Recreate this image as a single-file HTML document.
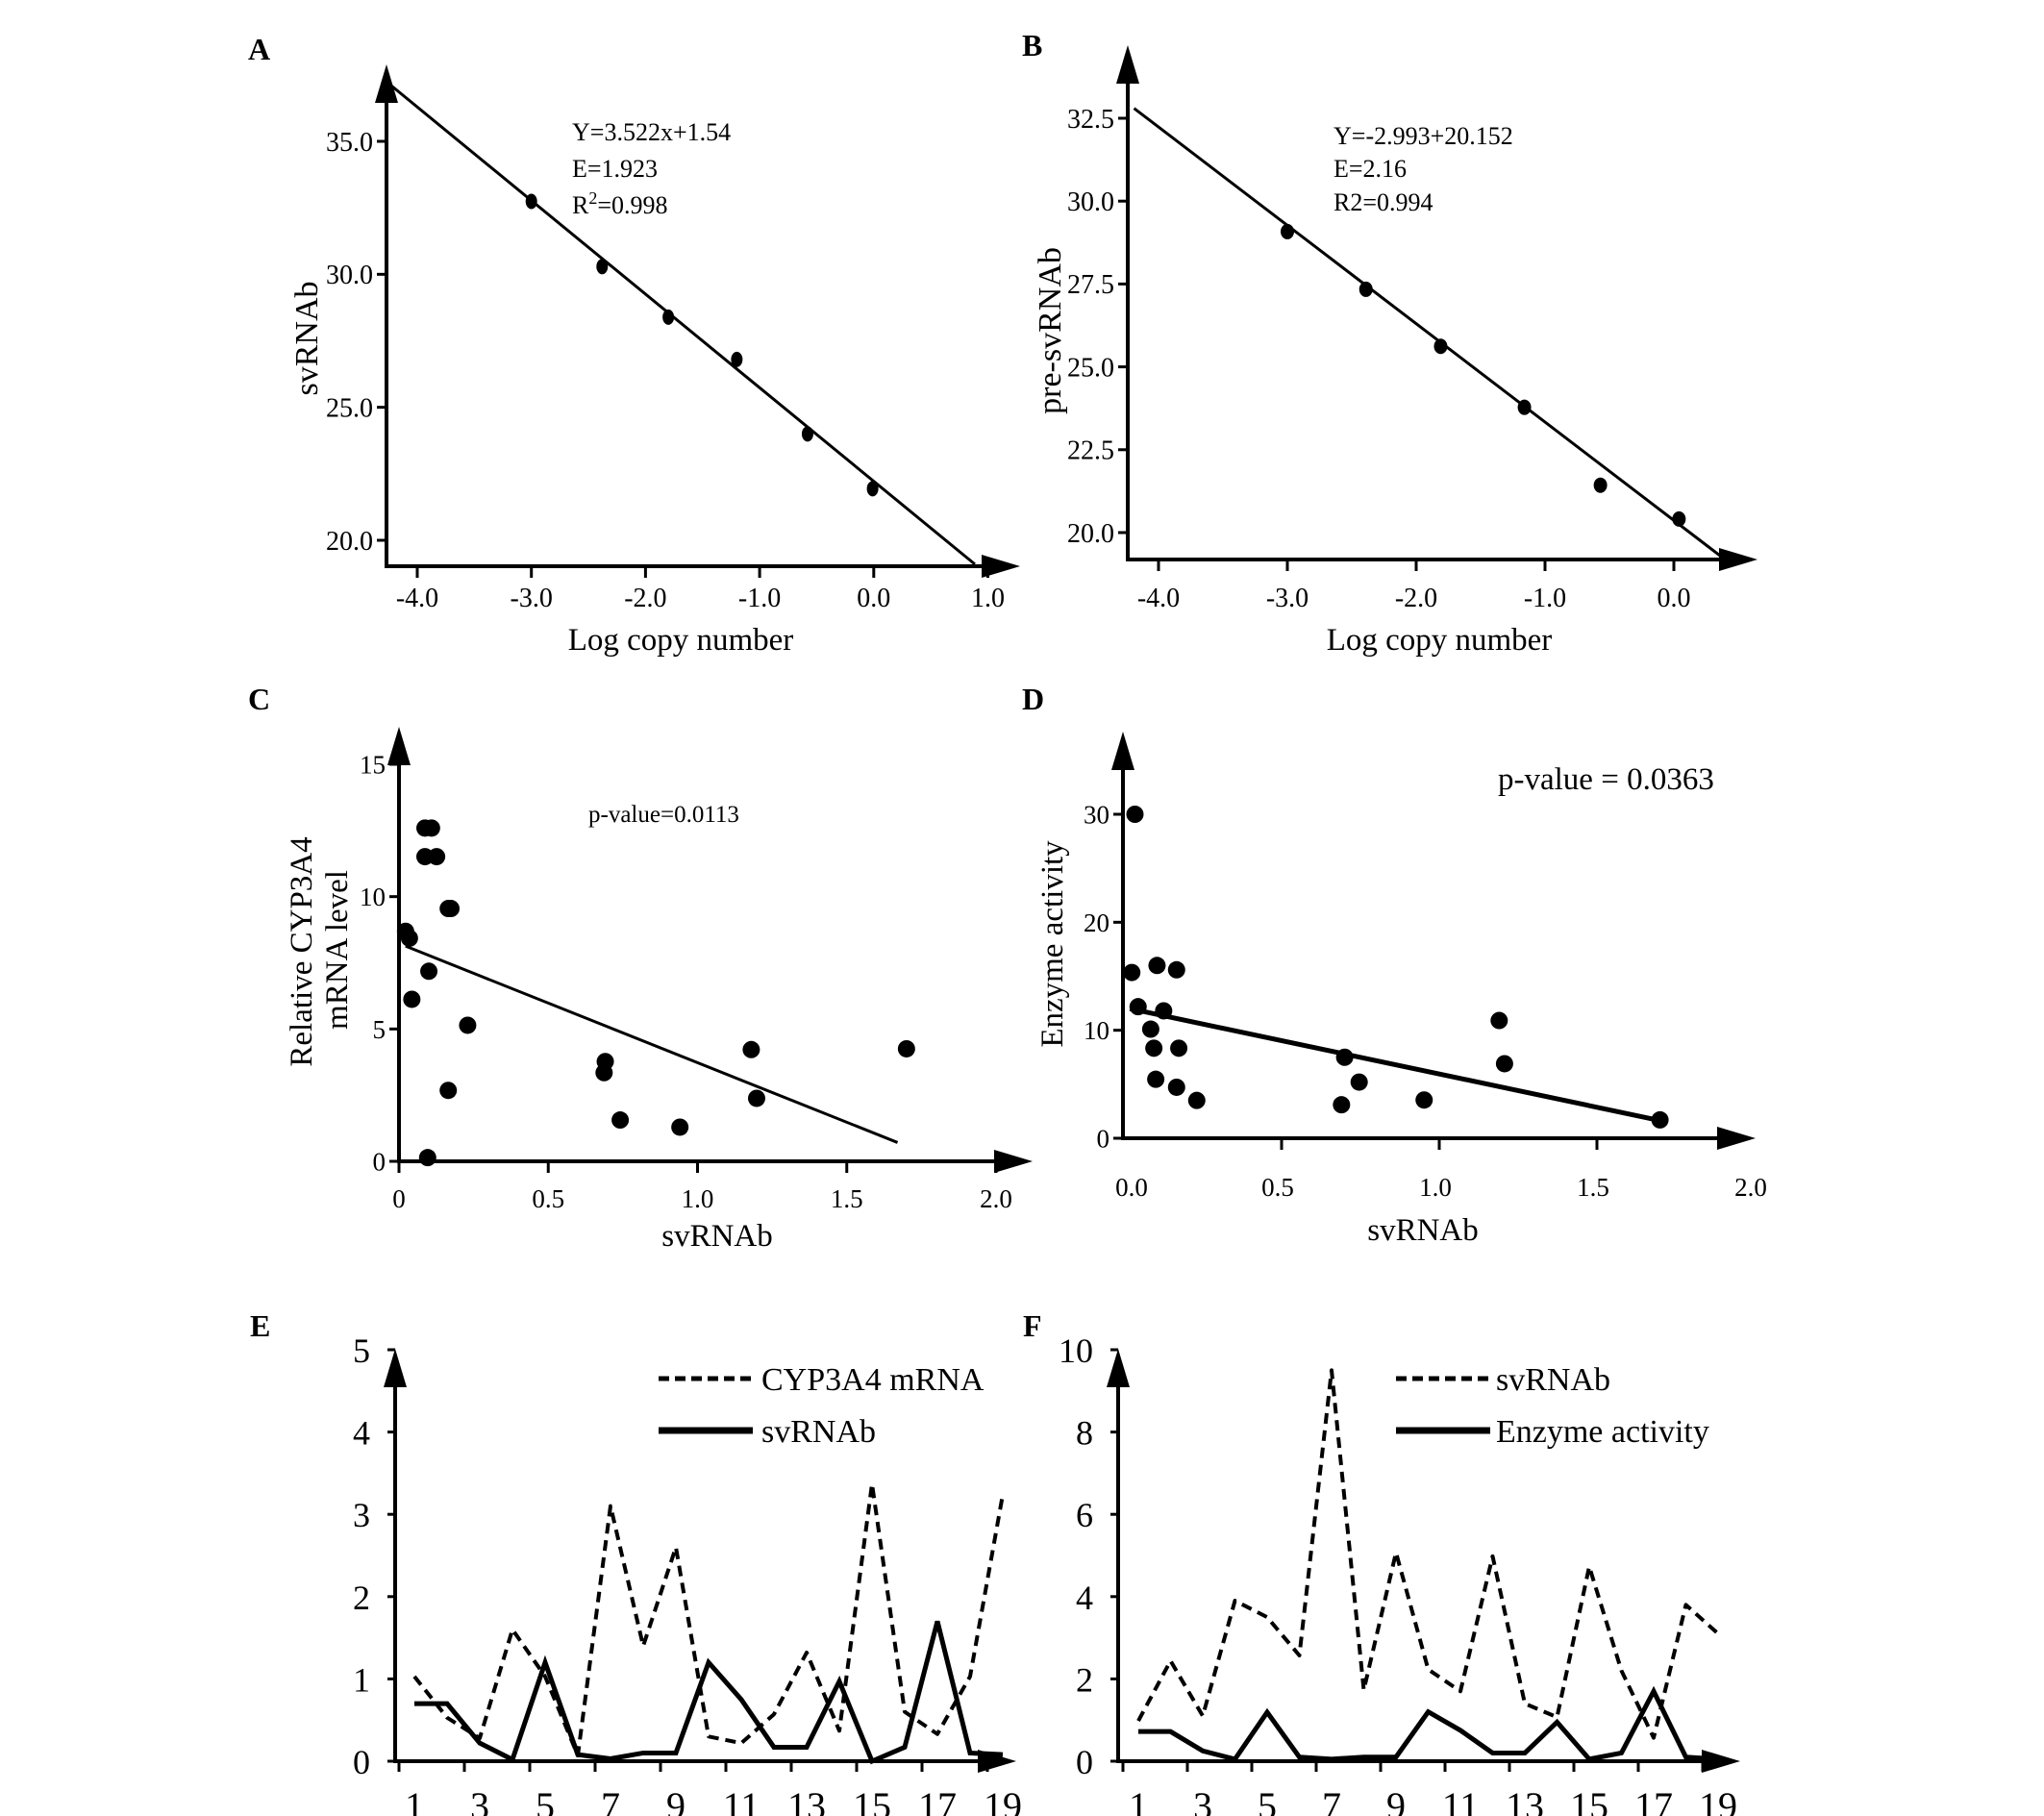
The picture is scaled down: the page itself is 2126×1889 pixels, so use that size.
<!DOCTYPE html>
<html><head><meta charset="utf-8"><style>
html,body{margin:0;padding:0;background:#fff}
svg{display:block}
text{font-family:"Liberation Serif",serif;fill:#000}
</style></head><body>
<svg id="fig" width="2126" height="1889" viewBox="0 0 2126 1889" xmlns="http://www.w3.org/2000/svg"></svg>
<script>
// Panel A data
const aX=[-3.0,-2.38,-1.8,-1.2,-0.58,-0.01];
const aY=[32.74,30.29,28.39,26.8,24.0,21.94];
const aFit=[[-4.23,37.1],[0.886,19.1]];
const aXTicks=[-4,-3,-2,-1,0,1];
const aXTickLabels=["-4.0","-3.0","-2.0","-1.0","0.0","1.0"];
const aYTicks=[20,25,30,35];
const aYTickLabels=["20.0","25.0","30.0","35.0"];
// Panel B data
const bX=[-3.0,-2.39,-1.81,-1.16,-0.57,0.04];
const bY=[29.08,27.34,25.62,23.78,21.43,20.41];
const bFit=[[-4.19,32.8],[0.36,19.3]];
const bXTicks=[-4,-3,-2,-1,0];
const bXTickLabels=["-4.0","-3.0","-2.0","-1.0","0.0"];
const bYTicks=[20,22.5,25,27.5,30,32.5];
const bYTickLabels=["20.0","22.5","25.0","27.5","30.0","32.5"];
// Panel C data
const cX=[0.022,0.035,0.087,0.109,0.087,0.126,0.165,0.174,0.100,0.043,0.230,0.165,0.096,0.691,0.687,0.741,0.941,1.180,1.198,1.70];
const cY=[8.69,8.43,12.59,12.59,11.51,11.51,9.55,9.55,7.18,6.12,5.14,2.68,0.14,3.77,3.35,1.56,1.29,4.22,2.38,4.25];
const cFit=[[0.022,8.13],[1.67,0.71]];
const cXTicks=[0,0.5,1,1.5,2];
const cXTickLabels=["0","0.5","1.0","1.5","2.0"];
const cYTicks=[0,5,10,15];
const cYTickLabels=["0","5","10","15"];
// Panel D data
const dX=[0.025,0.035,0.045,0.105,0.167,0.126,0.085,0.095,0.174,0.101,0.167,0.231,0.70,0.746,0.69,0.952,1.19,1.207,1.70];
const dY=[15.35,30.0,12.18,16.0,15.6,11.8,10.1,8.34,8.34,5.46,4.72,3.5,7.5,5.2,3.1,3.54,10.9,6.9,1.70];
const dFit=[[0.019,12.0],[1.69,1.7]];
const dXTicks=[0,0.5,1,1.5,2];
const dXTickLabels=["0.0","0.5","1.0","1.5","2.0"];
const dYTicks=[0,10,20,30];
const dYTickLabels=["0","10","20","30"];
// Panel E data
const eCats=[1,2,3,4,5,6,7,8,9,10,11,12,13,14,15,16,17,18,19];
const eMrna=[1.03,0.53,0.28,1.6,1.03,0.07,3.1,1.4,2.6,0.3,0.22,0.57,1.32,0.37,3.37,0.6,0.33,1.03,3.24];
const eSv=[0.7,0.7,0.22,0.02,1.2,0.08,0.03,0.1,0.1,1.2,0.75,0.17,0.17,0.97,0.0,0.17,1.7,0.1,0.08];
const eYTicks=[0,1,2,3,4,5];
// Panel F data
const fSv=[0.98,2.44,1.1,3.9,3.5,2.57,9.5,1.73,5.07,2.23,1.7,4.98,1.4,1.07,4.73,2.2,0.57,3.8,3.1];
const fEnz=[0.72,0.72,0.25,0.05,1.19,0.1,0.05,0.1,0.1,1.2,0.75,0.2,0.2,0.95,0.05,0.2,1.7,0.1,0.05];
const fYTicks=[0,2,4,6,8,10];
const catLabels=["1","3","5","7","9","11","13","15","17","19"];

const NS="http://www.w3.org/2000/svg";
const svg=document.getElementById('fig');
function mk(tag,attrs,parent,txt){const e=document.createElementNS(NS,tag);for(const k in attrs)e.setAttribute(k,attrs[k]);if(txt!==undefined)e.textContent=txt;(parent||svg).appendChild(e);return e;}
function lin(d0,d1,r0,r1){return v=>r0+(v-d0)/(d1-d0)*(r1-r0);}
function group(name){const g=mk('g',{});return g;}
function txt(g,x,y,s,size,anchor,name,extra){const t=mk('text',Object.assign({x:x,y:y,'font-size':size,'text-anchor':anchor||'start'},extra||{}),g,s);return t;}
function axes(g,ox,oy,topY,rightX){
  const ya=mk('line',{x1:ox,y1:oy+2,x2:ox,y2:topY+36,stroke:'#000','stroke-width':4},g);
  
  const yh=mk('polygon',{points:`${ox-12},${topY+40} ${ox+12},${topY+40} ${ox},${topY}`,fill:'#000'},g);
  
  const xa=mk('line',{x1:ox-2,y1:oy,x2:rightX-36,y2:oy,stroke:'#000','stroke-width':4},g);
  
  const xh=mk('polygon',{points:`${rightX-40},${oy-12} ${rightX-40},${oy+12} ${rightX},${oy}`,fill:'#000'},g);
  
}
function xticks(g,sx,ticks,labels,oy,labY,size){
  ticks.forEach((v,i)=>{const l=mk('line',{x1:sx(v),y1:oy,x2:sx(v),y2:oy+12,stroke:'#000','stroke-width':3},g);
    
    txt(g,sx(v),labY,labels[i],size,'middle','x-tick-label');});
}
function yticks(g,sy,ticks,labels,ox,size){
  ticks.forEach((v,i)=>{const l=mk('line',{x1:ox-10,y1:sy(v),x2:ox,y2:sy(v),stroke:'#000','stroke-width':3},g);
    
    txt(g,ox-14,sy(v)+size*0.35,labels[i],size,'end','y-tick-label');});
}
function fit(g,sx,sy,f,w){const l=mk('line',{x1:sx(f[0][0]),y1:sy(f[0][1]),x2:sx(f[1][0]),y2:sy(f[1][1]),stroke:'#000','stroke-width':w},g);
  }

// ---- Panel A ----
{const g=group('panel-a');
 const sx=lin(-4,1,434,1027.5), sy=lin(20,35,562,147);
 txt(g,258,62,'A',32,'start','panel-label-a',{'font-weight':'bold'});
 axes(g,402,589,67,1061);
 xticks(g,sx,aXTicks,aXTickLabels,589,631,28);
 yticks(g,sy,aYTicks,aYTickLabels,402,28);
 fit(g,sx,sy,aFit,3);
 aX.forEach((v,i)=>{const e=mk('ellipse',{cx:sx(v),cy:sy(aY[i]),rx:6,ry:8,fill:'#000'},g);
   });
 txt(g,595,146,'Y=3.522x+1.54',26,'start','equation');
 txt(g,595,184,'E=1.923',26,'start','efficiency');
 const r=txt(g,595,222,'R',26,'start','r-squared');
 mk('tspan',{'font-size':18,dy:-10},r,'2');mk('tspan',{dy:10},r,'=0.998');
 txt(g,0,0,'svRNAb',34,'middle','y-axis-title',{transform:'translate(330,352) rotate(-90)'});
 txt(g,708,676,'Log copy number',33,'middle','x-axis-title');
}
// ---- Panel B ----
{const g=group('panel-b');
 const sx=lin(-4,0,1205,1741), sy=lin(20,32.5,554,123);
 txt(g,1063,58,'B',32,'start','panel-label-b',{'font-weight':'bold'});
 axes(g,1173,582,47,1828);
 xticks(g,sx,bXTicks,bXTickLabels,582,631,28);
 yticks(g,sy,bYTicks,bYTickLabels,1173,28);
 fit(g,sx,sy,bFit,3);
 bX.forEach((v,i)=>{const e=mk('ellipse',{cx:sx(v),cy:sy(bY[i]),rx:7,ry:8,fill:'#000'},g);
   });
 txt(g,1387,150,'Y=-2.993+20.152',26,'start','equation');
 txt(g,1387,184,'E=2.16',26,'start','efficiency');
 txt(g,1387,219,'R2=0.994',26,'start','r-squared');
 txt(g,0,0,'pre-svRNAb',34,'middle','y-axis-title',{transform:'translate(1103,344) rotate(-90)'});
 txt(g,1497,676,'Log copy number',33,'middle','x-axis-title');
}
// ---- Panel C ----
{const g=group('panel-c');
 const sx=lin(0,2,415,1036), sy=lin(0,15,1208,795);
 txt(g,258,738,'C',32,'start','panel-label-c',{'font-weight':'bold'});
 axes(g,415,1208,756,1074);
 xticks(g,sx,cXTicks,cXTickLabels,1208,1256,27);
 yticks(g,sy,cYTicks,cYTickLabels,415,27);
 fit(g,sx,sy,cFit,3);
 cX.forEach((v,i)=>{const e=mk('circle',{cx:sx(v),cy:sy(cY[i]),r:9,fill:'#000'},g);
   });
 txt(g,612,855,'p-value=0.0113',25,'start','p-value');
 txt(g,0,0,'Relative CYP3A4',33,'middle','y-axis-title-line1',{transform:'translate(324,990) rotate(-90)'});
 txt(g,0,0,'mRNA level',33,'middle','y-axis-title-line2',{transform:'translate(361,988) rotate(-90)'});
 txt(g,746,1296,'svRNAb',33,'middle','x-axis-title');
}
// ---- Panel D ----
{const g=group('panel-d');
 const sx=lin(0,2,1169,1825), sy=lin(0,30,1184,847);
 txt(g,1063,738,'D',32,'start','panel-label-d',{'font-weight':'bold'});
 axes(g,1168,1184,761,1826);
 dXTicks.forEach((v,i)=>{if(v>0&&v<2){const l=mk('line',{x1:sx(v),y1:1184,x2:sx(v),y2:1196,stroke:'#000','stroke-width':3},g);
   }
   txt(g,sx(v)+(i==0?8:-4),1244,dXTickLabels[i],27,'middle','x-tick-label');});
 yticks(g,sy,dYTicks,dYTickLabels,1168,27);
 fit(g,sx,sy,dFit,5);
 dX.forEach((v,i)=>{const e=mk('circle',{cx:sx(v),cy:sy(dY[i]),r:9,fill:'#000'},g);
   });
 txt(g,1558,821,'p-value = 0.0363',33,'start','p-value');
 txt(g,0,0,'Enzyme activity',33,'middle','y-axis-title',{transform:'translate(1105,982) rotate(-90)'});
 txt(g,1480,1290,'svRNAb',33,'middle','x-axis-title');
}
// ---- Line panels ----
function linePanel(name,label,lx,ox,x1,x19,tip,maxY,ticks,dashS,solidS,leg1,leg2,legX,legTextX){
 const g=group(name);
 const sx=lin(1,19,x1,x19), sy=lin(0,maxY,1832,1404);
 txt(g,lx,1390,label,32,'start','panel-label-'+label.toLowerCase(),{'font-weight':'bold'});
 axes(g,ox,1832,1403,tip);
 ticks.forEach(v=>{const l=mk('line',{x1:ox-8,y1:sy(v),x2:ox,y2:sy(v),stroke:'#000','stroke-width':3},g);
   
   txt(g,ox-26,sy(v)+13,String(v),36,'end','y-tick-label');});
 catLabels.forEach(s=>{const v=+s;const l=mk('line',{x1:sx(v)-16,y1:1832,x2:sx(v)-16,y2:1843,stroke:'#000','stroke-width':3},g);
   
   txt(g,sx(v),1892,s,40,'middle','x-tick-label');});
 const dp=eCats.map((c,i)=>sx(c)+','+sy(dashS[i])).join(' ');
 const d=mk('polyline',{points:dp,fill:'none',stroke:'#000','stroke-width':4,'stroke-dasharray':'11,7','stroke-linejoin':'round'},g);
 
 const sp=eCats.map((c,i)=>sx(c)+','+sy(solidS[i])).join(' ');
 const s=mk('polyline',{points:sp,fill:'none',stroke:'#000','stroke-width':5,'stroke-linejoin':'miter'},g);
 
 const l1=mk('line',{x1:legX,y1:1434,x2:legX+98,y2:1434,stroke:'#000','stroke-width':5,'stroke-dasharray':'11,6'},g);
 
 txt(g,legTextX,1446,leg1,34,'start','legend-entry-dashed');
 const l2=mk('line',{x1:legX,y1:1488,x2:legX+98,y2:1488,stroke:'#000','stroke-width':7},g);
 
 txt(g,legTextX,1500,leg2,34,'start','legend-entry-solid');
}
linePanel('panel-e','E',260,411,431,1043,1057,5,eYTicks,eMrna,eSv,'CYP3A4 mRNA','svRNAb',685,792);
linePanel('panel-f','F',1064,1163,1184,1787,1810,10,fYTicks,fSv,fEnz,'svRNAb','Enzyme activity',1452,1556);
</script>
</body></html>
